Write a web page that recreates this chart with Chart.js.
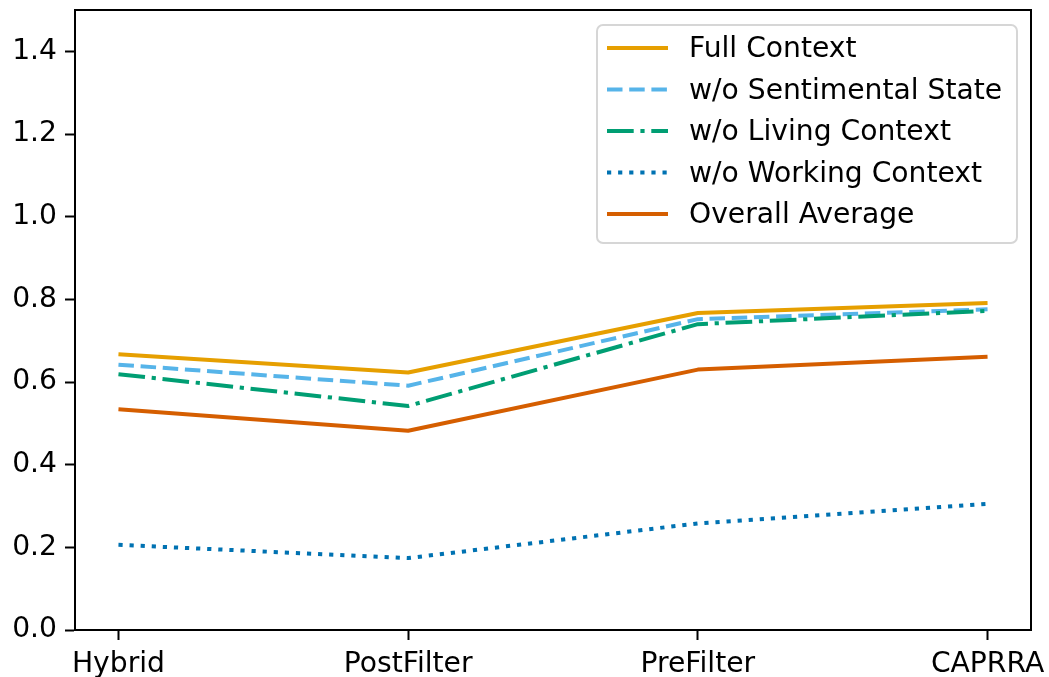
<!DOCTYPE html>
<html>
<head>
<meta charset="utf-8">
<title>Context ablation</title>
<script src="https://cdn.jsdelivr.net/npm/chart.js@4.4.1/dist/chart.umd.min.js"></script>
<style>
  html, body { margin: 0; padding: 0; background: #ffffff; }
  #wrap { width: 1049px; height: 677px; }
</style>
</head>
<body>
<div id="wrap"><canvas id="ablationChart"></canvas></div>
<script>
// Methods along the x axis
const methods = ['Hybrid', 'PostFilter', 'PreFilter', 'CAPRRA'];

// Scores per configuration
const fullContext = [0.667, 0.623, 0.767, 0.791];
const noSentimental = [0.642, 0.591, 0.752, 0.776];
const noLiving = [0.619, 0.542, 0.740, 0.772];
const noWorking = [0.206, 0.174, 0.258, 0.305];
const overallAverage = [0.534, 0.482, 0.630, 0.661];

const yTicks = [0.0, 0.2, 0.4, 0.6, 0.8, 1.0, 1.2, 1.4];

const FONT = 'DejaVu Sans';
const FONT_SIZE = 28.2;
const LW = 4;

function toPoints(values) {
    return values.map(function(v, i) { return { x: i, y: v }; });
}

// Frame around the plot area plus a boxed legend in the upper right
const frameAndLegend = {
    id: 'frameAndLegend',
    afterDraw: function(chart) {
        const ctx = chart.ctx;
        const a = chart.chartArea;
        ctx.save();
        ctx.strokeStyle = '#000000';
        ctx.lineWidth = 2;
        ctx.setLineDash([]);
        ctx.strokeRect(a.left, a.top, a.right - a.left, a.bottom - a.top);

        // legend box
        const bx = 597, by = 25, bw = 420, bh = 218, r = 6;
        ctx.beginPath();
        ctx.moveTo(bx + r, by);
        ctx.arcTo(bx + bw, by, bx + bw, by + bh, r);
        ctx.arcTo(bx + bw, by + bh, bx, by + bh, r);
        ctx.arcTo(bx, by + bh, bx, by, r);
        ctx.arcTo(bx, by, bx + bw, by, r);
        ctx.closePath();
        ctx.fillStyle = 'rgba(255,255,255,0.8)';
        ctx.fill();
        ctx.strokeStyle = '#d6d6d6';
        ctx.lineWidth = 2;
        ctx.stroke();

        ctx.font = FONT_SIZE + 'px "' + FONT + '"';
        ctx.textBaseline = 'middle';
        ctx.textAlign = 'left';
        chart.data.datasets.forEach(function(ds, i) {
            const y = 48 + i * 41.5;
            ctx.beginPath();
            ctx.setLineDash(ds.borderDash || []);
            ctx.lineCap = 'butt';
            ctx.strokeStyle = ds.borderColor;
            ctx.lineWidth = LW;
            ctx.moveTo(607, y);
            ctx.lineTo(668, y);
            ctx.stroke();
            ctx.setLineDash([]);
            ctx.fillStyle = '#000000';
            ctx.fillText(ds.label, 689, y + 2);
        });
        ctx.restore();
    }
};

function makeDataset(label, values, color, dash, order) {
    return {
        label: label,
        data: toPoints(values),
        borderColor: color,
        backgroundColor: color,
        borderWidth: LW,
        borderDash: dash,
        borderCapStyle: 'butt',
        borderJoinStyle: 'round',
        pointRadius: 0,
        tension: 0,
        fill: false,
        order: order
    };
}

document.addEventListener('DOMContentLoaded', function() {
    const ctx = document.getElementById('ablationChart');
    if (!ctx || typeof Chart === 'undefined') return;

    new Chart(ctx, {
        type: 'line',
        data: {
            datasets: [
                makeDataset('Full Context', fullContext, '#E69F00', [], 5),
                makeDataset('w/o Sentimental State', noSentimental, '#56B4E9', [15.5, 6.7], 4),
                makeDataset('w/o Living Context', noLiving, '#009E73', [26.7, 6.7, 4.2, 6.7], 3),
                makeDataset('w/o Working Context', noWorking, '#0072B2', [4.2, 6.9], 2),
                makeDataset('Overall Average', overallAverage, '#D55E00', [], 1)
            ]
        },
        options: {
            responsive: true,
            maintainAspectRatio: false,
            animation: false,
            layout: { padding: { top: 10, right: 18, left: 0, bottom: 0 } },
            plugins: {
                legend: { display: false },
                tooltip: { enabled: false }
            },
            scales: {
                x: {
                    type: 'linear',
                    min: -0.15,
                    max: 3.15,
                    afterBuildTicks: function(scale) {
                        scale.ticks = methods.map(function(m, i) { return { value: i }; });
                    },
                    afterFit: function(scale) {
                        scale.height = 47;
                        scale.paddingLeft = 0;
                        scale.paddingRight = 0;
                    },
                    ticks: {
                        callback: function(value) { return methods[value]; },
                        color: '#000000',
                        font: { family: FONT, size: FONT_SIZE },
                        padding: 8,
                        maxRotation: 0,
                        autoSkip: false
                    },
                    grid: {
                        drawOnChartArea: false,
                        drawTicks: true,
                        tickLength: 10,
                        tickWidth: 2,
                        tickColor: '#000000'
                    },
                    border: { display: true, color: '#000000', width: 2 }
                },
                y: {
                    min: 0,
                    max: 1.5,
                    afterBuildTicks: function(scale) {
                        scale.ticks = yTicks.map(function(v) { return { value: v }; });
                    },
                    afterFit: function(scale) {
                        scale.width = 75;
                        scale.paddingTop = 0;
                        scale.paddingBottom = 0;
                    },
                    ticks: {
                        callback: function(value) { return value.toFixed(1); },
                        color: '#000000',
                        font: { family: FONT, size: FONT_SIZE },
                        padding: 8
                    },
                    grid: {
                        drawOnChartArea: false,
                        drawTicks: true,
                        tickLength: 10,
                        tickWidth: 2,
                        tickColor: '#000000'
                    },
                    border: { display: true, color: '#000000', width: 2 }
                }
            }
        },
        plugins: [frameAndLegend]
    });
});
</script>
</body>
</html>
